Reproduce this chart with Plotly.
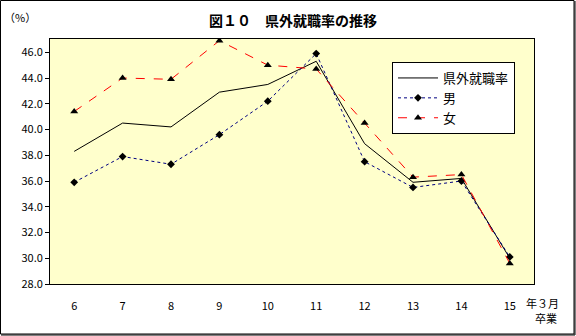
import plotly.graph_objects as go

categories = ["6", "7", "8", "9", "10", "11", "12", "13", "14", "15"]
total = [38.3, 40.5, 40.2, 42.9, 43.5, 45.3, 38.9, 35.9, 36.2, 30.0]
male = [35.9, 37.9, 37.3, 39.6, 42.2, 45.9, 37.5, 35.5, 36.0, 30.1]
female = [41.4, 44.0, 43.9, 46.9, 45.0, 44.7, 40.5, 36.3, 36.5, 29.6]
y_ticks = [28, 30, 32, 34, 36, 38, 40, 42, 44, 46]

W, H = 576, 336
L, R, T, B = 50, 42, 39, 52
pw, ph = W - L - R, H - T - B

def px(x):
    return (x - L) / pw

def py(y):
    return (H - B - y) / ph

FONT = "Noto Sans CJK JP"

fig = go.Figure()
fig.add_trace(go.Scatter(x=categories, y=total, name="県外就職率", mode="lines",
                         line=dict(color="black", width=1)))
fig.add_trace(go.Scatter(x=categories, y=male, name="男", mode="lines+markers",
                         line=dict(color="#000080", width=1, dash="dot"),
                         marker=dict(symbol="diamond", size=6, color="black")))
fig.add_trace(go.Scatter(x=categories, y=female, name="女", mode="lines+markers",
                         line=dict(color="#FF0000", width=1, dash="dash"),
                         marker=dict(symbol="triangle-up", size=7, color="black")))

fig.update_layout(
    width=W, height=H,
    margin=dict(l=L, r=R, t=T, b=B, pad=0),
    paper_bgcolor="white",
    plot_bgcolor="#FFFFCC",
    font=dict(family=FONT, size=11, color="black"),
    showlegend=True,
    legend=dict(x=px(392), y=py(62), xanchor="left", yanchor="top",
                bgcolor="white", bordercolor="black", borderwidth=1,
                font=dict(size=13, family=FONT), tracegroupgap=0,
                itemwidth=40),
    xaxis=dict(type="category", range=[-0.5, 9.5], showgrid=False,
               showline=True, linecolor="black", linewidth=1, mirror=True,
               ticks="", ticklabelstandoff=12, tickfont=dict(size=11, family=FONT)),
    yaxis=dict(range=[28, 47.03], tickvals=y_ticks, tickformat=".1f",
               showgrid=False, showline=True, linecolor="black", linewidth=1,
               mirror=True, ticks="outside", ticklen=4, tickcolor="black",
               zeroline=False, tickfont=dict(size=11, family=FONT)),
)

fig.add_annotation(x=px(293), y=py(20), xref="paper", yref="paper",
                   text="<b>図１０　県外就職率の推移</b>", showarrow=False,
                   font=dict(size=14, family=FONT), xanchor="center", yanchor="middle")
fig.add_annotation(x=px(20), y=py(17), xref="paper", yref="paper",
                   text="（%）", showarrow=False,
                   font=dict(size=11, family=FONT), xanchor="center", yanchor="middle")
fig.add_annotation(x=px(542), y=py(303), xref="paper", yref="paper",
                   text="年３月", showarrow=False,
                   font=dict(size=11, family=FONT), xanchor="center", yanchor="middle")
fig.add_annotation(x=px(546), y=py(318), xref="paper", yref="paper",
                   text="卒業", showarrow=False,
                   font=dict(size=11, family=FONT), xanchor="center", yanchor="middle")

fig.add_shape(type="rect", xref="paper", yref="paper",
              x0=px(0.5), x1=px(574), y0=py(334), y1=py(0.5),
              line=dict(color="black", width=1), layer="above")
fig.add_shape(type="line", xref="paper", yref="paper",
              x0=px(575), x1=px(575), y0=py(335), y1=py(1),
              line=dict(color="black", width=1), layer="above")
fig.add_shape(type="line", xref="paper", yref="paper",
              x0=px(1), x1=px(575), y0=py(335), y1=py(335),
              line=dict(color="black", width=1), layer="above")

fig.write_html("out.html")
